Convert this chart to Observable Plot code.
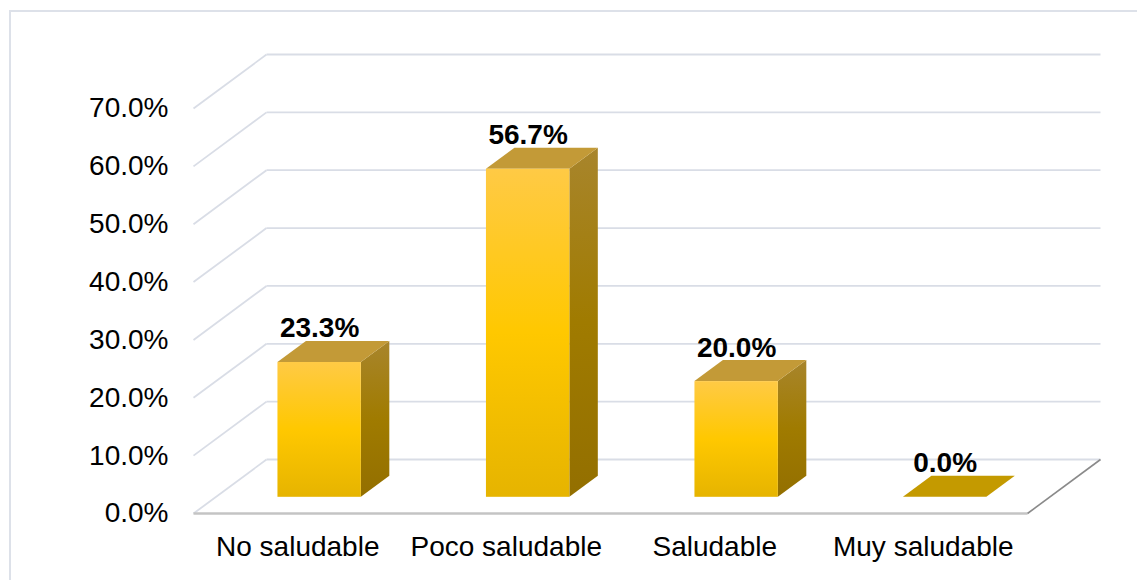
<!DOCTYPE html>
<html>
<head>
<meta charset="utf-8">
<script src="https://cdn.jsdelivr.net/npm/d3@7"></script>
<script src="https://cdn.jsdelivr.net/npm/@observablehq/plot@0.6"></script>
<style>
  html, body { margin: 0; padding: 0; background: #fff; overflow: hidden; }
  #wrap { position: relative; width: 1137px; height: 580px; }
  #border { position: absolute; left: 9px; top: 10px; width: 1200px; height: 620px;
            border-left: 2px solid #dde1e9; border-top: 2px solid #dde1e9; }
  #chart { position: absolute; left: 0; top: 0; }
</style>
</head>
<body>
<div id="wrap"><div id="border"></div><div id="chart"></div></div>
<script>
// ---- data ----
const categories = ["No saludable", "Poco saludable", "Saludable", "Muy saludable"];
const values = [0.233, 0.567, 0.200, 0.000];
const yTicks = [0, 0.1, 0.2, 0.3, 0.4, 0.5, 0.6, 0.7];

// ---- layout ----
const W = 1137, H = 580;
const mL = 193, mR = 110, mT = 108, mB = 67;
const innerW = W - mL - mR, innerH = H - mT - mB;
const yMax = 0.7;
// oblique depth vector (pixels) converted to data units
const depthPx = {x: 73, y: 54};
const ddx = depthPx.x / (innerW / categories.length);
const ddy = depthPx.y / (innerH / yMax);
const f1 = 0.30, f2 = 0.69;   // bar front/back depth fractions
const hw = 0.2;               // half bar width (category units)

const bars = values.map((v, i) => ({i, v, cat: categories[i]}));
const sideFaces = bars.flatMap(b => [f1, f2].map(t => ({
  i: b.i, x: b.i + 0.5 + hw + t * ddx, y1: t * ddy, y2: b.v + t * ddy
})));
const topFaces = bars.flatMap(b => [f1, f2].map(t => ({
  i: b.i, y: b.v + t * ddy, x1: b.i + 0.5 - hw + t * ddx, x2: b.i + 0.5 + hw + t * ddx, v: b.v
})));

const font = "'Liberation Sans', Arial, sans-serif";
const fs = 28;

const chart = Plot.plot({
  width: W, height: H,
  marginLeft: mL, marginRight: mR, marginTop: mT, marginBottom: mB,
  x: {domain: [0, categories.length], axis: null},
  y: {domain: [0, yMax], axis: null},
  style: {fontFamily: font, fontSize: fs + "px", color: "#000", background: "transparent", overflow: "visible"},
  marks: [
    // back wall gridlines
    Plot.link(yTicks, {x1: ddx, x2: categories.length + ddx, y1: d => d + ddy, y2: d => d + ddy,
      stroke: "#d9dde6", strokeWidth: 1.8}),
    // side wall diagonals
    Plot.link(yTicks, {x1: 0, y1: d => d, x2: ddx, y2: d => d + ddy,
      stroke: "#d9dde6", strokeWidth: 1.8}),
    // floor front edge
    Plot.link([0], {x1: 0, x2: categories.length, y1: 0, y2: 0, stroke: "#c4c4c4", strokeWidth: 2.5}),
    // floor right edge
    Plot.link([0], {x1: categories.length, y1: 0, x2: categories.length + ddx, y2: ddy,
      stroke: "#8a8a8a", strokeWidth: 1.6}),
    // bar side faces
    Plot.areaY(sideFaces, {x: "x", y1: "y1", y2: "y2", z: "i", fill: "url(#gSide)"}),
    // bar top faces
    Plot.areaX(topFaces, {y: "y", x1: "x1", x2: "x2", z: "i", fill: d => d.v === 0 ? "#c49a00" : "#c39a37"}),
    // bar front faces
    Plot.rect(bars, {x1: d => d.i + 0.5 - hw + f1 * ddx, x2: d => d.i + 0.5 + hw + f1 * ddx,
      y1: f1 * ddy, y2: d => d.v + f1 * ddy, fill: "url(#gFront)"}),
    // value labels
    Plot.text(bars, {x: d => d.i + 0.5 + f1 * ddx, y: d => d.v + f1 * ddy, dy: -34,
      text: d => d3.format(".1%")(d.v), fontWeight: "bold", fontSize: fs, fill: "#000",
      lineAnchor: "middle"}),
    // y axis
    Plot.axisY(yTicks, {tickFormat: d3.format(".1%"), tickSize: 0, tickPadding: 25, fontSize: fs,
      fill: "#000", label: null}),
    // category labels
    Plot.text(bars, {x: d => d.i + 0.5, y: 0, dy: 34, text: "cat", fontSize: fs, fill: "#000",
      lineAnchor: "middle"})
  ]
});

// gradients
const ns = "http://www.w3.org/2000/svg";
const defs = document.createElementNS(ns, "defs");
defs.innerHTML = `
  <linearGradient id="gFront" x1="0" y1="0" x2="0" y2="1">
    <stop offset="0" stop-color="#ffca45"/>
    <stop offset="0.5" stop-color="#ffc800"/>
    <stop offset="1" stop-color="#e6b400"/>
  </linearGradient>
  <linearGradient id="gSide" x1="0" y1="0" x2="0" y2="1">
    <stop offset="0" stop-color="#a8852c"/>
    <stop offset="0.5" stop-color="#a07b00"/>
    <stop offset="1" stop-color="#936f00"/>
  </linearGradient>`;
chart.insertBefore(defs, chart.firstChild);
document.getElementById("chart").appendChild(chart);
</script>
</body>
</html>
